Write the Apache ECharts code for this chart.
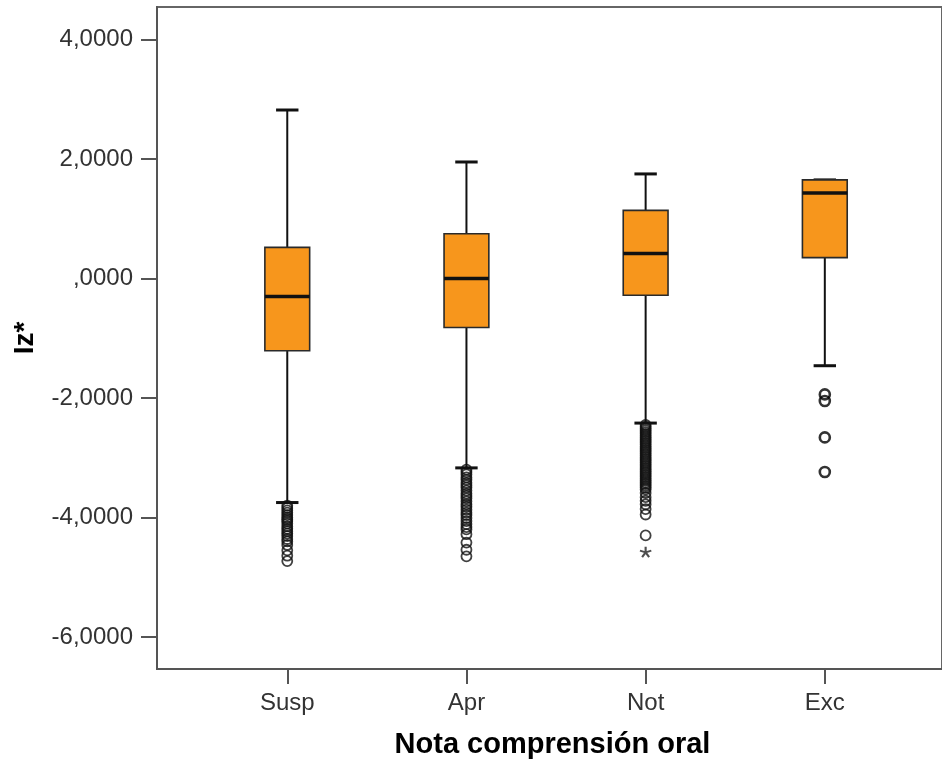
<!DOCTYPE html>
<html>
<head>
<meta charset="utf-8">
<script src="https://cdn.jsdelivr.net/npm/echarts@6/dist/echarts.min.js"></script>
<style>
html,body{margin:0;padding:0;background:#fff;}
#chart{width:942px;height:768px;}
</style>
</head>
<body>
<div id="chart"></div>
<script>
// ---- data ----
const categories = ['Susp', 'Apr', 'Not', 'Exc'];
const yTicks = [-6, -4, -2, 0, 2, 4];
const minVals = [-3.75, -3.17, -2.42, -1.46];
const q1Vals = [-1.21, -0.82, -0.28, 0.35];
const medians = [-0.30, 0.00, 0.42, 1.43];
const q3Vals = [0.52, 0.75, 1.14, 1.65];
const maxVals = [2.82, 1.95, 1.75, 1.65];

const suspOutliers = [-3.80, -3.84, -3.88, -3.92, -3.96, -4.00, -4.03, -4.06, -4.10, -4.15, -4.19, -4.23, -4.27, -4.31, -4.36, -4.40, -4.46, -4.55, -4.64, -4.73];
const aprOutliers = [-3.20, -3.24, -3.28, -3.33, -3.37, -3.42, -3.46, -3.50, -3.55, -3.60, -3.64, -3.68, -3.73, -3.78, -3.82, -3.87, -3.92, -3.96, -4.01, -4.06, -4.11, -4.16, -4.20, -4.28, -4.42, -4.54, -4.65];
const notOutliers = [-2.45, -2.48, -2.51, -2.54, -2.57, -2.60, -2.63, -2.66, -2.69, -2.72, -2.75, -2.78, -2.81, -2.84, -2.87, -2.90, -2.93, -2.96, -2.99, -3.02, -3.05, -3.08, -3.11, -3.14, -3.17, -3.20, -3.23, -3.26, -3.29, -3.32, -3.35, -3.38, -3.41, -3.44, -3.47, -3.50, -3.53, -3.59, -3.66, -3.72, -3.78, -3.86, -3.95, -4.30];
const excOutliers = [-1.94, -2.05, -2.66, -3.24];
const extremeValues = [[2, -4.58]]; // [category index, value] shown as *

const outlierGroups = [suspOutliers, aprOutliers, notOutliers];

const boxData = categories.map((c, i) => [i, minVals[i], q1Vals[i], medians[i], q3Vals[i], maxVals[i]]);
const outlierData = [];
outlierGroups.forEach((arr, i) => arr.forEach(v => outlierData.push([i, v])));
const excData = excOutliers.map(v => [3, v]);

const asteriskPath = 'path://M58,50L58,5L42,5L42,50Z M52.47,57.61L95.27,43.71L90.33,28.49L47.53,42.39Z M43.53,54.70L69.99,91.11L82.93,81.71L56.47,45.30Z M43.53,45.30L17.07,81.71L30.01,91.11L56.47,54.70Z M52.47,42.39L9.67,28.49L4.73,43.71L47.53,57.61Z';

const FONT = '"Liberation Sans", Arial, sans-serif';
const chart = echarts.init(document.getElementById('chart'), null, {renderer: 'canvas'});

function fmtY(v) {
  if (v === 0) return ',0000';
  return v.toFixed(4).replace('.', ',');
}

chart.setOption({
  animation: false,
  backgroundColor: '#ffffff',
  grid: {
    left: 157, right: -5, top: 7, bottom: 99,
    show: true, borderColor: '#666', borderWidth: 2, backgroundColor: 'transparent'
  },
  xAxis: {
    type: 'value',
    min: -0.727, max: 3.654,
    name: 'Nota comprensión oral',
    nameLocation: 'middle',
    nameGap: 61,
    nameTextStyle: {fontFamily: FONT, fontSize: 29, fontWeight: 'bold', color: '#000', padding: [0, 0, 0, 6]},
    axisLine: {show: true, onZero: false, lineStyle: {color: '#555', width: 2}},
    axisTick: {show: true, customValues: [0, 1, 2, 3], length: 15, lineStyle: {color: '#555', width: 2}},
    axisLabel: {
      show: true, customValues: [0, 1, 2, 3], margin: 22,
      fontFamily: FONT, fontSize: 24, color: '#333',
      formatter: v => categories[Math.round(v)]
    },
    splitLine: {show: false}
  },
  yAxis: {
    type: 'value',
    min: -6.536, max: 4.544,
    name: 'Iz*',
    nameLocation: 'middle',
    nameRotate: 90,
    nameGap: 118,
    nameTextStyle: {fontFamily: FONT, fontSize: 28, fontWeight: 'bold', color: '#000'},
    axisLine: {show: true, onZero: false, lineStyle: {color: '#555', width: 2}},
    axisTick: {show: true, customValues: yTicks, length: 16, lineStyle: {color: '#555', width: 2}},
    axisLabel: {
      show: true, customValues: yTicks, margin: 24,
      fontFamily: FONT, fontSize: 24, color: '#333',
      formatter: fmtY
    },
    splitLine: {show: false}
  },
  series: [
    {
      type: 'custom',
      data: boxData,
      encode: {x: 0, y: [1, 2, 3, 4, 5]},
      clip: false,
      renderItem: function (params, api) {
        const x = api.value(0);
        const lo = api.coord([x, api.value(1)]);
        const q1 = api.coord([x, api.value(2)]);
        const md = api.coord([x, api.value(3)]);
        const q3 = api.coord([x, api.value(4)]);
        const hi = api.coord([x, api.value(5)]);
        const bw = api.size([0.25, 0])[0];
        const cw = api.size([0.125, 0])[0];
        const cx = lo[0];
        const line = (x1, y1, x2, y2, w) => ({
          type: 'line',
          shape: {x1: x1, y1: y1, x2: x2, y2: y2},
          style: {stroke: '#111', lineWidth: w}
        });
        const children = [];
        if (hi[1] < q3[1] - 0.5) children.push(line(cx, hi[1], cx, q3[1], 2));
        children.push(line(cx, q1[1], cx, lo[1], 2));
        children.push(line(cx - cw / 2, hi[1], cx + cw / 2, hi[1], 3));
        children.push(line(cx - cw / 2, lo[1], cx + cw / 2, lo[1], 3));
        children.push({
          type: 'rect',
          shape: {x: cx - bw / 2, y: q3[1], width: bw, height: q1[1] - q3[1]},
          style: {fill: '#f7961c', stroke: '#2a2a2a', lineWidth: 1.6}
        });
        children.push(line(cx - bw / 2, md[1], cx + bw / 2, md[1], 3.5));
        return {type: 'group', children: children};
      },
      z: 2
    },
    {
      type: 'scatter',
      data: outlierData,
      symbol: 'circle',
      symbolSize: 10,
      itemStyle: {color: 'rgba(255,255,255,0)', borderColor: '#111', borderWidth: 1.8},
      z: 3
    },
    {
      type: 'scatter',
      data: excData,
      symbol: 'circle',
      symbolSize: 10,
      itemStyle: {color: 'rgba(255,255,255,0)', borderColor: '#000', borderWidth: 2.6},
      z: 3
    },
    {
      type: 'scatter',
      data: extremeValues,
      symbol: asteriskPath,
      symbolSize: [12, 11],
      itemStyle: {color: '#222'},
      z: 3
    }
  ]
});
</script>
</body>
</html>
